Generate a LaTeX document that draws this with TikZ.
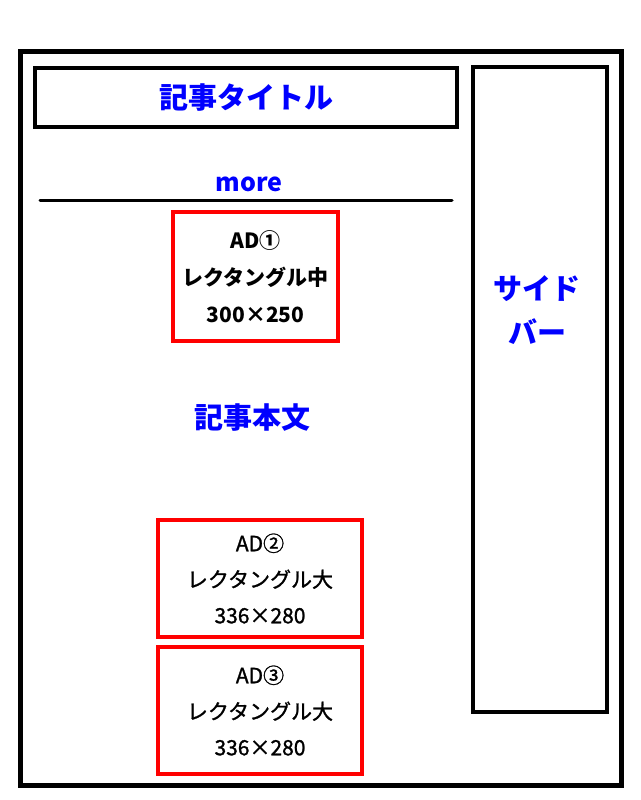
\documentclass[tikz,border=0pt]{standalone}
\usepackage{fontspec}
\setmainfont{Noto Sans CJK JP}
\newfontfamily\jpmedium{Noto Sans CJK JP}[FakeBold=1.2]
\usetikzlibrary{positioning}
\definecolor{LayoutBlue}{RGB}{0, 0, 255}
\definecolor{LayoutRed}{RGB}{255, 0, 0}

\begin{document}
\begin{tikzpicture}[
    x=1pt, y=-1pt,
    every node/.style={align=center, inner sep=0pt},
    frame/.style={rectangle, draw=black, line width=5pt},
    block/.style={rectangle, draw=black, line width=4pt},
    adbox/.style={rectangle, draw=LayoutRed, line width=4pt, font=\fontsize{21}{36}\selectfont\jpmedium},
    label/.style={text=LayoutBlue, font=\fontsize{29}{44}\selectfont\bfseries},
    rule/.style={draw=black, line width=3pt, line cap=round}
  ]
    \useasboundingbox (0,0) rectangle (640,800);

    % Page and side column
    \node[frame, minimum width=601pt, minimum height=733pt] (page) at (320.5,418.5) {};
    \node[block, minimum width=134pt, minimum height=645pt] (side) at (540,389.5) {};
    \node[label] (sidetext) at (537,310) {サイド\\バー};

    % Title and more
    \node[block, label, minimum width=422pt, minimum height=59pt] (title) at (246,97.5) {記事タイトル};
    \node[text=LayoutBlue, font=\fontsize{25}{30}\selectfont\bfseries] (more) at (249,184) {more};
    \coordinate (ruleL) at (40,200);
    \coordinate (ruleR) at (452,200);
    \draw[rule] (ruleL) -- (ruleR);

    % Ads and body
    \node[adbox, minimum width=165pt, minimum height=129pt, font=\fontsize{21}{37}\selectfont\bfseries] (ad1) at (255.5,276.5) {AD①\\レクタングル中\\300×250};
    \node[label] (body) at (252,418) {記事本文};
    \node[adbox, minimum width=204pt, minimum height=117pt] (ad2) at (260,578.5) {AD②\\レクタングル大\\336×280};
    \node[adbox, minimum width=204pt, minimum height=127pt] (ad3) at (260,710.5) {AD③\\レクタングル大\\336×280};
  \end{tikzpicture}
\end{document}
